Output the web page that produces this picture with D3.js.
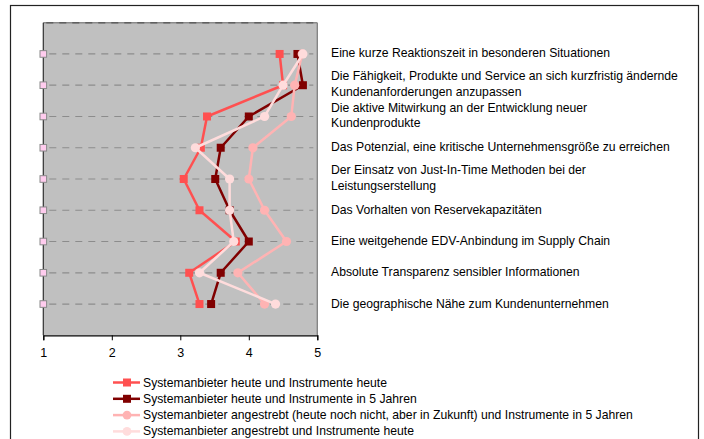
<!DOCTYPE html>
<html><head><meta charset="utf-8">
<script src="https://cdn.jsdelivr.net/npm/d3@7"></script>
<style>body{margin:0;background:#fff}svg{display:block}text{font-family:"Liberation Sans",Arial,sans-serif}</style>
</head><body><svg id="c" width="704" height="439"></svg>
<script>
const categories = [
  ["Eine kurze Reaktionszeit in besonderen Situationen"],
  ["Die Fähigkeit, Produkte und Service an sich kurzfristig ändernde","Kundenanforderungen anzupassen"],
  ["Die aktive Mitwirkung an der Entwicklung neuer","Kundenprodukte"],
  ["Das Potenzial, eine kritische Unternehmensgröße zu erreichen"],
  ["Der Einsatz von Just-In-Time Methoden bei der","Leistungserstellung"],
  ["Das Vorhalten von Reservekapazitäten"],
  ["Eine weitgehende EDV-Anbindung im Supply Chain"],
  ["Absolute Transparenz sensibler Informationen"],
  ["Die geographische Nähe zum Kundenunternehmen"]
];
const seriesNames = [
  "Systemanbieter heute und Instrumente heute",
  "Systemanbieter heute und Instrumente in 5 Jahren",
  "Systemanbieter angestrebt (heute noch nicht, aber in Zukunft) und Instrumente in 5 Jahren",
  "Systemanbieter angestrebt und Instrumente heute"
];
const s1 = [4.45, 4.50, 3.39, 3.30, 3.05, 3.28, 3.81, 3.13, 3.28];
const s2 = [4.71, 4.79, 4.00, 3.59, 3.51, 3.72, 4.00, 3.59, 3.45];
const s3 = [4.78, 4.67, 4.62, 4.06, 4.00, 4.23, 4.55, 3.84, 4.23];
const s4 = [4.79, 4.50, 4.23, 3.22, 3.72, 3.72, 3.78, 3.28, 4.39];
const xTicks = [1, 2, 3, 4, 5];

const series = [
  {name: seriesNames[0], values: s1, color: "#ff5050", shape: "square"},
  {name: seriesNames[1], values: s2, color: "#800000", shape: "square"},
  {name: seriesNames[2], values: s3, color: "#ffb3b3", shape: "circle"},
  {name: seriesNames[3], values: s4, color: "#ffdcdc", shape: "circle"}
];

const svg = d3.select("#c");
svg.append("rect").attr("x", 10.5).attr("y", 5.5).attr("width", 688).attr("height", 445)
  .attr("fill", "#fff").attr("stroke", "#222").attr("stroke-width", 1.2);

const L = 43.3, R = 317.3, T = 22.7, B = 335.3;
const x = d3.scaleLinear().domain([1, 5]).range([L, R]);
const y = d3.scaleLinear().domain([0, categories.length + 1]).range([T, B]);

svg.append("rect").attr("x", L).attr("y", T).attr("width", R - L).attr("height", B - T).attr("fill", "#c0c0c0");
svg.append("line").attr("x1", R).attr("x2", R).attr("y1", T).attr("y2", B).attr("stroke", "#808080").attr("stroke-width", 1.3);
svg.append("line").attr("x1", L).attr("x2", R).attr("y1", T).attr("y2", T).attr("stroke", "#8a8a8a").attr("stroke-width", 1.5);
svg.append("line").attr("x1", L).attr("x2", R).attr("y1", T).attr("y2", T).attr("stroke", "#606060").attr("stroke-width", 1.5).attr("stroke-dasharray", "7,6").attr("stroke-dashoffset", -3);

svg.append("g").selectAll("line").data(categories).join("line")
  .attr("x1", L + 4).attr("x2", R - 4)
  .attr("y1", (d, i) => y(i + 1)).attr("y2", (d, i) => y(i + 1))
  .attr("stroke", "#8c8c8c").attr("stroke-width", 1.2).attr("stroke-dasharray", "7,6").attr("stroke-dashoffset", -2);

svg.append("line").attr("x1", L).attr("x2", L).attr("y1", T).attr("y2", B).attr("stroke", "#303030").attr("stroke-width", 1.2);

const xAxis = d3.axisBottom(x).tickValues(xTicks).tickSize(5).tickPadding(8).tickFormat(d3.format("d"));
const gx = svg.append("g").attr("transform", `translate(0,${B})`).call(xAxis);
gx.select(".domain").attr("stroke", "#000").attr("stroke-width", 1.2);
gx.selectAll(".tick line").attr("stroke", "#000");
gx.selectAll(".tick text").attr("font-size", 12.5).attr("fill", "#000").attr("font-family", "Liberation Sans, Arial, sans-serif");

svg.append("g").selectAll("rect").data(categories).join("rect")
  .attr("x", L - 3.3).attr("y", (d, i) => y(i + 1) - 3.3).attr("width", 6.6).attr("height", 6.6)
  .attr("fill", "#ffccee").attr("stroke", "#8a8a8a").attr("stroke-width", 1);

const line = d3.line().x(d => x(d)).y((d, i) => y(i + 1));
series.forEach(s => {
  const g = svg.append("g");
  g.append("path").attr("d", line(s.values)).attr("fill", "none").attr("stroke", s.color).attr("stroke-width", 2.5).attr("stroke-linejoin", "round");
  if (s.shape === "square") {
    g.selectAll("rect").data(s.values).join("rect")
      .attr("x", d => x(d) - 4).attr("y", (d, i) => y(i + 1) - 4).attr("width", 8).attr("height", 8).attr("fill", s.color);
  } else {
    g.selectAll("circle").data(s.values).join("circle")
      .attr("cx", d => x(d)).attr("cy", (d, i) => y(i + 1)).attr("r", 4.6).attr("fill", s.color);
  }
});

const lab = svg.append("g");
categories.forEach((c, i) => {
  const cy = y(i + 1);
  const n = c.length;
  c.forEach((t, j) => {
    lab.append("text").attr("x", 331).attr("y", cy + (j - (n - 1) / 2) * 15.5 + 4 - (n > 1 ? 1 : 0.5))
      .attr("font-size", 12.2).attr("fill", "#000").text(t);
  });
});

const lg = svg.append("g");
series.forEach((s, i) => {
  const ly = 382.5 + i * 16.3;
  lg.append("line").attr("x1", 113).attr("x2", 140).attr("y1", ly).attr("y2", ly).attr("stroke", s.color).attr("stroke-width", 2.5);
  if (s.shape === "square") lg.append("rect").attr("x", 123).attr("y", ly - 4).attr("width", 8).attr("height", 8).attr("fill", s.color);
  else lg.append("circle").attr("cx", 127).attr("cy", ly).attr("r", 4.4).attr("fill", s.color);
  lg.append("text").attr("x", 143).attr("y", ly + 4).attr("font-size", 12.2).attr("fill", "#000").text(s.name);
});
</script></body></html>
